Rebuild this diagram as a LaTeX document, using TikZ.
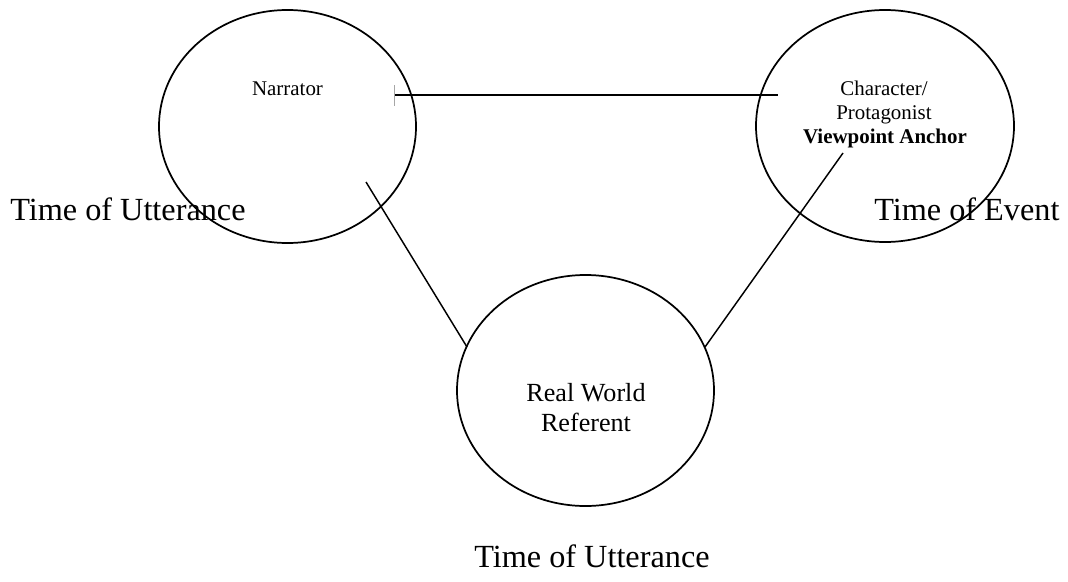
\documentclass[tikz,border=0pt]{standalone}
\usepackage{fontspec}
\setmainfont{Liberation Serif}
\usetikzlibrary{shapes.geometric}
\begin{document}
\begin{tikzpicture}[x=0.75pt,y=-0.75pt,
  oval/.style={draw,line width=1.3pt,ellipse,inner sep=0pt},
  conn/.style={line width=1.1pt},
  small/.style={font=\fontsize{15.7}{18}\selectfont,anchor=base,inner sep=0pt},
  mid/.style={font=\fontsize{19.6}{22.5}\selectfont,anchor=base,inner sep=0pt},
  big/.style={font=\fontsize{24.2}{28}\selectfont,anchor=base west,inner sep=0pt}]
\useasboundingbox (0,0) rectangle (1068,582);
% ellipses
\node[oval,minimum width=257*0.75pt,minimum height=233*0.75pt] (narr) at (287.5,126.5) {};
\node[oval,minimum width=258*0.75pt,minimum height=232*0.75pt] (char) at (885,126) {};
\node[oval,minimum width=257*0.75pt,minimum height=231*0.75pt] (real) at (585.5,390.5) {};
% texts
\node[small] (tn) at (287.5,95) {Narrator};
\node[small] (tc1) at (884,95) {Character/};
\node[small] (tc2) at (884,119.5) {Protagonist};
\node[small] (tc3) at (885,143.5) {\bfseries Viewpoint Anchor};
\node[mid] (tr1) at (586,401) {Real World};
\node[mid] (tr2) at (586,431) {Referent};
\node[big] (l1) at (10,220) {Time of Utterance};
\node[big] (l2) at (874,220) {Time of Event};
\node[big] (l3) at (474,567) {Time of Utterance};
% connector end points
\coordinate (h1) at (394,95);
\coordinate (h2) at (778,95);
\coordinate (t1) at (394,85);
\coordinate (t2) at (394,106);
\coordinate (d1) at (366,182);
\coordinate (d2) at (467,347);
\coordinate (e1) at (843,153);
\coordinate (e2) at (705,347);
\draw[conn] (h1) -- (h2);
\draw[gray!70,line width=0.6pt] (t1) -- (t2);
\draw[conn] (d1) -- (d2);
\draw[conn] (e1) -- (e2);
\end{tikzpicture}
\end{document}
